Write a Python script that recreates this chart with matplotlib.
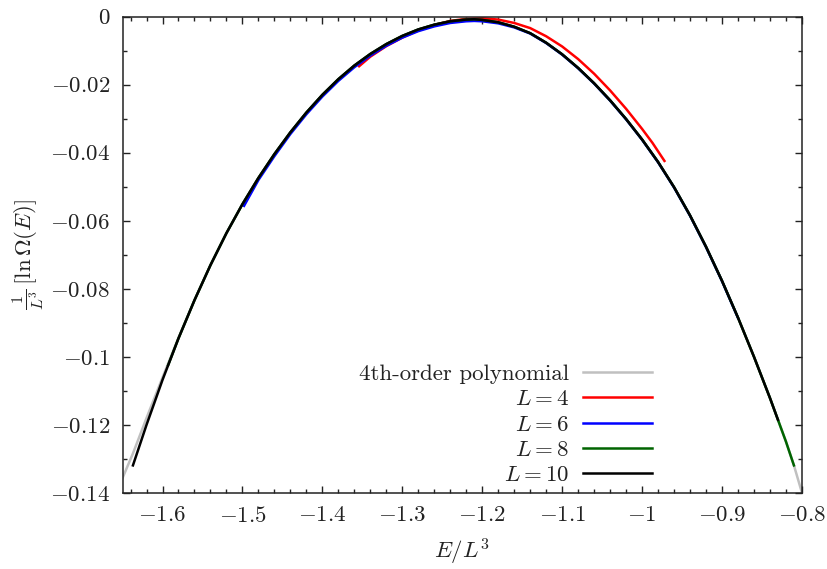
import matplotlib
matplotlib.use("Agg")
import matplotlib.pyplot as plt
from matplotlib.ticker import MultipleLocator, FuncFormatter

plt.rcParams['font.family'] = 'serif'
plt.rcParams['font.serif'] = ['cmr10', 'DejaVu Serif']
plt.rcParams['mathtext.fontset'] = 'cm'
plt.rcParams['axes.unicode_minus'] = True

# data
poly_x = [-1.650, -1.637, -1.620, -1.600, -1.580, -1.560, -1.540, -1.520, -1.500, -1.480,
          -1.460, -1.440, -1.420, -1.400, -1.380, -1.360, -1.340, -1.320, -1.300, -1.280,
          -1.260, -1.240, -1.220, -1.210, -1.200, -1.180, -1.160, -1.140, -1.120, -1.100,
          -1.080, -1.060, -1.040, -1.020, -1.000, -0.980, -0.960, -0.940, -0.920, -0.900,
          -0.880, -0.860, -0.840, -0.820, -0.810, -0.800]
poly_y = [-0.1355, -0.1283, -0.1179, -0.1060, -0.0943, -0.0833, -0.0730, -0.0636, -0.0551, -0.0474,
          -0.0404, -0.0340, -0.0282, -0.0230, -0.0184, -0.0144, -0.0110, -0.0081, -0.0057, -0.0038,
          -0.0024, -0.0014, -0.0009, -0.0008, -0.0010, -0.0017, -0.0030, -0.0049, -0.0077, -0.0111,
          -0.0151, -0.0196, -0.0246, -0.0301, -0.0361, -0.0427, -0.0501, -0.0584, -0.0676, -0.0776,
          -0.0884, -0.0999, -0.1120, -0.1248, -0.1318, -0.1398]

l4_x = [-1.354, -1.340, -1.320, -1.300, -1.280, -1.260, -1.240, -1.220, -1.200, -1.180,
        -1.160, -1.140, -1.120, -1.100, -1.080, -1.060, -1.040, -1.020, -1.000, -0.987, -0.972]
l4_y = [-0.0146, -0.0118, -0.0087, -0.0062, -0.0041, -0.0025, -0.0013, -0.0007, -0.0005, -0.0009,
        -0.0019, -0.0034, -0.0058, -0.0088, -0.0125, -0.0168, -0.0217, -0.0271, -0.0330, -0.0371, -0.0424]

l6_x = [-1.498, -1.480, -1.460, -1.440, -1.420, -1.400, -1.380, -1.360, -1.340, -1.320,
        -1.300, -1.280, -1.260, -1.240, -1.220, -1.210, -1.200, -1.180, -1.160, -1.140,
        -1.120, -1.100, -1.080, -1.060, -1.040, -1.020, -1.000, -0.980, -0.960, -0.940,
        -0.920, -0.900, -0.880]
l6_y = [-0.0556, -0.0480, -0.0410, -0.0345, -0.0287, -0.0235, -0.0189, -0.0149, -0.0115, -0.0086,
        -0.0062, -0.0043, -0.0029, -0.0019, -0.0014, -0.0013, -0.0014, -0.0020, -0.0032, -0.0050,
        -0.0078, -0.0112, -0.0152, -0.0197, -0.0247, -0.0302, -0.0362, -0.0428, -0.0502, -0.0585,
        -0.0677, -0.0777, -0.0885]

l8_x = [-1.593, -1.580, -1.560, -1.540, -1.520, -1.500, -1.480, -1.460, -1.440, -1.420,
        -1.400, -1.380, -1.360, -1.340, -1.320, -1.300, -1.280, -1.260, -1.240, -1.220,
        -1.210, -1.200, -1.180, -1.160, -1.140, -1.120, -1.100, -1.080, -1.060, -1.040,
        -1.020, -1.000, -0.980, -0.960, -0.940, -0.920, -0.900, -0.880, -0.860, -0.840,
        -0.820, -0.810]
l8_y = [-0.1024, -0.0945, -0.0833, -0.0730, -0.0636, -0.0551, -0.0474, -0.0404, -0.0340, -0.0282,
        -0.0230, -0.0184, -0.0144, -0.0110, -0.0081, -0.0057, -0.0038, -0.0024, -0.0014, -0.0009,
        -0.0008, -0.0010, -0.0017, -0.0030, -0.0049, -0.0077, -0.0111, -0.0151, -0.0196, -0.0246,
        -0.0301, -0.0361, -0.0427, -0.0501, -0.0584, -0.0676, -0.0776, -0.0884, -0.0999, -0.1120,
        -0.1248, -0.1318]

l10_x = [-1.637, -1.620, -1.600, -1.580, -1.560, -1.540, -1.520, -1.500, -1.480, -1.460,
         -1.440, -1.420, -1.400, -1.380, -1.360, -1.340, -1.320, -1.300, -1.280, -1.260,
         -1.240, -1.220, -1.210, -1.200, -1.180, -1.160, -1.140, -1.120, -1.100, -1.080,
         -1.060, -1.040, -1.020, -1.000, -0.980, -0.960, -0.940, -0.920, -0.900, -0.880,
         -0.860, -0.840, -0.830]
l10_y = [-0.1318, -0.1199, -0.1067, -0.0945, -0.0833, -0.0730, -0.0636, -0.0551, -0.0474, -0.0404,
         -0.0340, -0.0282, -0.0230, -0.0184, -0.0144, -0.0110, -0.0081, -0.0057, -0.0038, -0.0024,
         -0.0014, -0.0009, -0.0008, -0.0010, -0.0017, -0.0030, -0.0049, -0.0077, -0.0111, -0.0151,
         -0.0196, -0.0246, -0.0301, -0.0361, -0.0427, -0.0501, -0.0584, -0.0676, -0.0776, -0.0884,
         -0.0999, -0.1120, -0.1184]

series = [
    (poly_x, poly_y, '4th-order polynomial', '#c0c0c0'),
    (l4_x, l4_y, '$L=4$', '#ff0000'),
    (l6_x, l6_y, '$L=6$', '#0000ff'),
    (l8_x, l8_y, '$L=8$', '#006400'),
    (l10_x, l10_y, '$L=10$', '#000000'),
]

fs = 16.5
ink = '#222222'

fig = plt.figure(figsize=(8.28, 5.69), dpi=100)
ax = fig.add_axes([0.148, 0.133, 0.8205, 0.838])

for xs, ys, lab, col in series:
    ax.plot(xs, ys, color=col, lw=1.8, label=lab, solid_joinstyle='round')

ax.set_xlim(-1.65, -0.8)
ax.set_ylim(-0.14, 0.0)
ax.xaxis.set_major_locator(MultipleLocator(0.1))
ax.xaxis.set_minor_locator(MultipleLocator(0.02))
ax.yaxis.set_major_locator(MultipleLocator(0.02))
ax.yaxis.set_minor_locator(MultipleLocator(0.01))
fmt = FuncFormatter(lambda v, p: '$%g$' % round(v, 4) if abs(v) > 1e-9 else '$0$')
ax.xaxis.set_major_formatter(fmt)
ax.yaxis.set_major_formatter(fmt)
ax.tick_params(which='both', direction='in', top=True, right=True, color=ink,
               labelsize=fs, labelcolor=ink, width=1.0)
ax.tick_params(which='major', length=5, pad=9)
ax.tick_params(which='minor', length=3)
for s in ax.spines.values():
    s.set_linewidth(1.1)
    s.set_color(ink)

ax.set_xlabel('$E/L^3$', fontsize=fs, color=ink, labelpad=8)
ax.set_ylabel(r'$\frac{1}{L^3}\,[\ln\Omega(E)]$', fontsize=fs, color=ink, labelpad=2)

leg = ax.legend(loc='lower right', bbox_to_anchor=(0.779, 0.018), frameon=False,
                markerfirst=False, fontsize=fs, handlelength=3.0, handletextpad=0.6,
                labelspacing=0.22, borderpad=0, borderaxespad=0)
for t in leg.get_texts():
    t.set_color(ink)

fig.savefig('out.png', dpi=100)
